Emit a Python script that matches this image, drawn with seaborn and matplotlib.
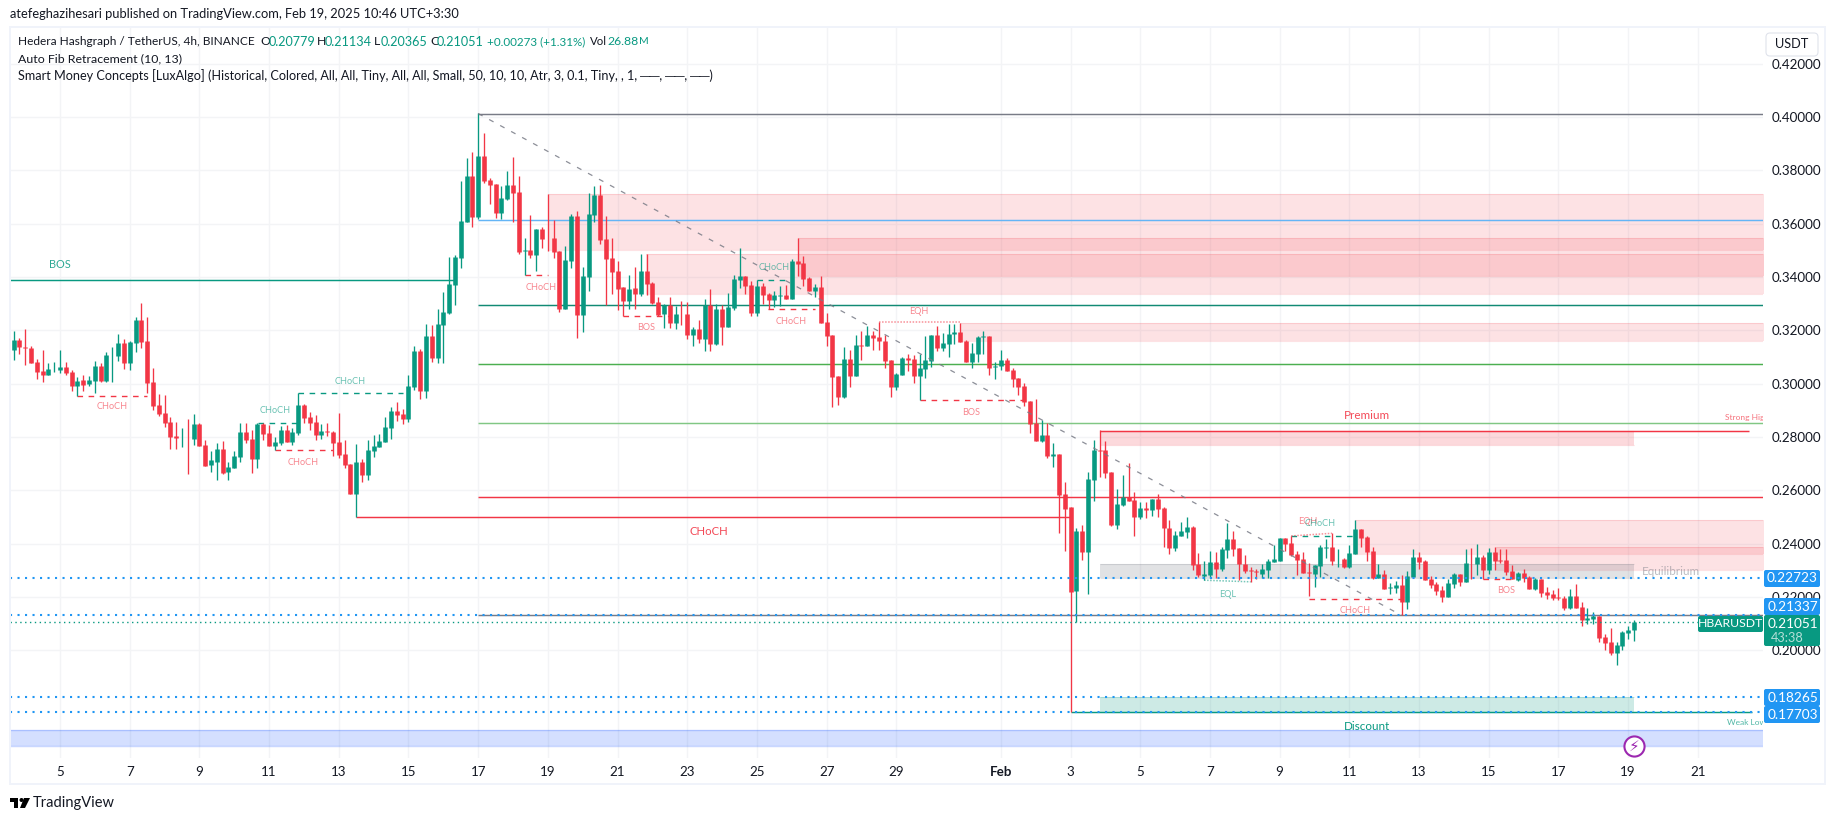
import numpy as np
import pandas as pd
import matplotlib
matplotlib.use("Agg")
import matplotlib.pyplot as plt
import seaborn as sns
from matplotlib.patches import FancyBboxPatch, Polygon, Circle
from matplotlib.transforms import IdentityTransform

# 4h candles, first one is Jan 3 16:00
opens = [
    .3128, .3165, .3138, .3135, .3083, .3049, .3034, .3054, .3053, .3064,
    .3045, .2993, .3015, .3000, .3011, .3068, .3011, .3106, .3105, .3154,
    .3079, .3154, .3240, .3161, .3008, .2921, .2891, .2858, .2805, .2799,
    .2801, .2794, .2850, .2771, .2696, .2708, .2756, .2670, .2685, .2726,
    .2820, .2794, .2719, .2850, .2816, .2768, .2779, .2828, .2782, .2816,
    .2921, .2876, .2858, .2809, .2824, .2820, .2782, .2738, .2700, .2588,
    .2707, .2659, .2749, .2764, .2782, .2835, .2899, .2888, .2869, .2989,
    .3124, .2974, .3180, .3098, .3221, .3266, .3371, .3473, .3608, .3780,
    .3626, .3855, .3765, .3750, .3641, .3694, .3746, .3720, .3499, .3503,
    .3484, .3581, .3548, .3548, .3499, .3281, .3461, .3630, .3259, .3401,
    .3634, .3709, .3544, .3473, .3424, .3364, .3311, .3360, .3338, .3424,
    .3379, .3308, .3263, .3295, .3229, .3263, .3263, .3184, .3206, .3169,
    .3295, .3150, .3281, .3213, .3284, .3389, .3404, .3370, .3265, .3366,
    .3336, .3314, .3329, .3333, .3318, .3460, .3453, .3396, .3348, .3363,
    .3231, .3183, .3029, .2950, .3093, .3029, .3145, .3141, .3183, .3175,
    .3160, .3089, .2987, .3033, .3096, .3093, .3029, .3055, .3085, .3183,
    .3134, .3149, .3186, .3194, .3160, .3081, .3111, .3176, .3179, .3064,
    .3065, .3088, .3050, .3020, .2990, .2934, .2851, .2784, .2806, .2728,
    .2735, .2585, .2536, .2221, .2446, .2368, .2638, .2750, .2750, .2668,
    .2469, .2544, .2574, .2563, .2499, .2533, .2525, .2566, .2533, .2458,
    .2383, .2428, .2443, .2461, .2323, .2280, .2284, .2333, .2306, .2378,
    .2419, .2385, .2325, .2301, .2299, .2288, .2303, .2333, .2336, .2423,
    .2404, .2363, .2344, .2295, .2288, .2318, .2385, .2389, .2341, .2344,
    .2314, .2363, .2456, .2426, .2374, .2273, .2288, .2234, .2235, .2246,
    .2183, .2276, .2351, .2336, .2269, .2250, .2228, .2201, .2250, .2288,
    .2258, .2329, .2325, .2351, .2303, .2370, .2340, .2340, .2299, .2265,
    .2291, .2276, .2231, .2269, .2220, .2213, .2201, .2198, .2160, .2205,
    .2164, .2115, .2119, .2130, .2051, .2033, .1991, .2018, .2066, .20779,
]
highs = [
    .3199, .3173, .3206, .3143, .3094, .3128, .3079, .3083, .3128, .3083,
    .3053, .3026, .3034, .3030, .3086, .3079, .3120, .3139, .3188, .3169,
    .3161, .3251, .3304, .3251, .3060, .2963, .2959, .2876, .2858, .2835,
    .2869, .2888, .2854, .2790, .2749, .2779, .2786, .2708, .2749, .2854,
    .2854, .2828, .2854, .2854, .2846, .2801, .2842, .2846, .2835, .2965,
    .2925, .2895, .2884, .2850, .2854, .2824, .2891, .2790, .2700, .2775,
    .2719, .2790, .2809, .2813, .2876, .2914, .2932, .2906, .3034, .3142,
    .3131, .3225, .3221, .3281, .3345, .3476, .3484, .3761, .3848, .3870,
    .4015, .3941, .3773, .3750, .3743, .3799, .3851, .3780, .3548, .3634,
    .3581, .3589, .3713, .3615, .3499, .3518, .3638, .3649, .3439, .3716,
    .3743, .3746, .3630, .3548, .3461, .3364, .3409, .3439, .3488, .3488,
    .3383, .3326, .3300, .3326, .3293, .3311, .3308, .3214, .3240, .3319,
    .3356, .3300, .3296, .3340, .3408, .3509, .3404, .3385, .3388, .3378,
    .3340, .3348, .3366, .3370, .3468, .3546, .3479, .3400, .3374, .3404,
    .3265, .3183, .3029, .3138, .3126, .3183, .3198, .3216, .3198, .3231,
    .3183, .3089, .3040, .3100, .3111, .3108, .3110, .3179, .3183, .3216,
    .3190, .3224, .3224, .3228, .3164, .3153, .3179, .3198, .3179, .3081,
    .3125, .3095, .3058, .3020, .3001, .2934, .2941, .2863, .2851, .2776,
    .2735, .2630, .2536, .2458, .2469, .2668, .2788, .2825, .2784, .2668,
    .2604, .2656, .2701, .2593, .2555, .2555, .2566, .2585, .2536, .2488,
    .2446, .2480, .2499, .2465, .2364, .2336, .2374, .2370, .2389, .2479,
    .2449, .2385, .2359, .2314, .2306, .2325, .2344, .2396, .2423, .2423,
    .2430, .2374, .2370, .2329, .2321, .2396, .2419, .2441, .2381, .2348,
    .2396, .2490, .2456, .2430, .2389, .2325, .2303, .2254, .2261, .2284,
    .2299, .2381, .2370, .2340, .2280, .2258, .2243, .2269, .2291, .2288,
    .2381, .2385, .2400, .2359, .2385, .2389, .2381, .2381, .2321, .2295,
    .2306, .2280, .2273, .2269, .2239, .2228, .2235, .2205, .2231, .2250,
    .2183, .2160, .2145, .2130, .2063, .2085, .2033, .2074, .2093, .21134,
]
lows = [
    .3090, .3113, .3071, .3079, .3019, .3008, .3034, .3045, .3041, .3034,
    .2974, .2953, .2974, .2993, .2966, .3008, .3008, .3008, .3086, .3056,
    .3053, .3120, .3135, .2966, .2903, .2880, .2839, .2756, .2756, .2764,
    .2663, .2771, .2768, .2693, .2670, .2640, .2663, .2640, .2685, .2708,
    .2779, .2666, .2685, .2790, .2768, .2752, .2771, .2782, .2771, .2809,
    .2854, .2828, .2790, .2794, .2805, .2730, .2722, .2685, .2588, .2500,
    .2632, .2640, .2726, .2764, .2782, .2794, .2861, .2850, .2858, .2977,
    .2944, .2947, .3083, .3079, .3079, .3262, .3296, .3435, .3608, .3589,
    .3619, .3754, .3675, .3623, .3619, .3690, .3608, .3488, .3408, .3473,
    .3424, .3510, .3499, .3473, .3270, .3281, .3435, .3173, .3195, .3349,
    .3608, .3525, .3295, .3338, .3278, .3254, .3281, .3281, .3330, .3334,
    .3300, .3254, .3210, .3210, .3206, .3221, .3169, .3143, .3154, .3124,
    .3124, .3146, .3146, .3213, .3276, .3359, .3336, .3254, .3254, .3299,
    .3279, .3288, .3291, .3318, .3318, .3404, .3366, .3348, .3325, .3228,
    .3141, .2913, .2920, .2946, .2987, .3029, .3089, .3141, .3126, .3126,
    .3059, .2950, .2976, .3033, .3048, .3003, .2938, .3021, .3063, .3123,
    .3123, .3100, .3149, .3156, .3081, .3059, .3081, .3111, .3033, .3018,
    .3050, .3046, .2986, .2956, .2915, .2814, .2784, .2780, .2720, .2686,
    .2439, .2371, .17703, .2108, .2338, .2210, .2559, .2649, .2645, .2465,
    .2454, .2540, .2559, .2428, .2491, .2495, .2503, .2499, .2386, .2360,
    .2371, .2428, .2420, .2300, .2274, .2265, .2273, .2273, .2299, .2348,
    .2355, .2265, .2291, .2258, .2269, .2273, .2273, .2333, .2336, .2374,
    .2355, .2284, .2291, .2205, .2239, .2276, .2348, .2321, .2314, .2310,
    .2310, .2363, .2389, .2336, .2269, .2273, .2231, .2213, .2216, .2134,
    .2156, .2276, .2306, .2265, .2235, .2209, .2183, .2201, .2235, .2243,
    .2258, .2269, .2284, .2268, .2288, .2303, .2329, .2284, .2269, .2261,
    .2258, .2231, .2228, .2201, .2194, .2190, .2190, .2153, .2156, .2160,
    .2093, .2100, .2100, .2033, .2003, .1984, .1946, .2003, .2044, .20365,
]
closes = [
    .3165, .3136, .3135, .3079, .3045, .3034, .3056, .3056, .3064, .3041,
    .2993, .3011, .2996, .3015, .3068, .3011, .3109, .3109, .3154, .3079,
    .3158, .3240, .3158, .3004, .2918, .2888, .2854, .2801, .2798, .2801,
    .2799, .2850, .2768, .2693, .2715, .2756, .2666, .2689, .2730, .2820,
    .2790, .2719, .2850, .2813, .2768, .2782, .2828, .2782, .2820, .2921,
    .2872, .2854, .2809, .2824, .2820, .2779, .2734, .2696, .2588, .2707,
    .2659, .2752, .2768, .2786, .2839, .2899, .2884, .2869, .2992, .3124,
    .2974, .3180, .3098, .3225, .3270, .3375, .3476, .3611, .3780, .3626,
    .3855, .3761, .3746, .3641, .3698, .3746, .3716, .3495, .3501, .3484,
    .3581, .3544, .3545, .3495, .3281, .3465, .3630, .3259, .3405, .3638,
    .3709, .3540, .3469, .3420, .3356, .3311, .3356, .3338, .3424, .3375,
    .3304, .3259, .3295, .3229, .3263, .3260, .3184, .3206, .3169, .3295,
    .3150, .3281, .3214, .3288, .3392, .3404, .3366, .3265, .3366, .3333,
    .3314, .3333, .3331, .3318, .3460, .3449, .3393, .3348, .3363, .3228,
    .3179, .3025, .2950, .3093, .3029, .3145, .3141, .3183, .3171, .3160,
    .3085, .2987, .3036, .3096, .3089, .3029, .3059, .3089, .3183, .3134,
    .3153, .3186, .3194, .3156, .3081, .3115, .3175, .3179, .3059, .3066,
    .3088, .3046, .3016, .2986, .2930, .2848, .2784, .2806, .2728, .2735,
    .2581, .2529, .2218, .2446, .2368, .2641, .2750, .2746, .2664, .2469,
    .2548, .2574, .2559, .2499, .2533, .2526, .2566, .2529, .2458, .2383,
    .2431, .2446, .2461, .2319, .2281, .2288, .2333, .2306, .2381, .2419,
    .2381, .2325, .2299, .2296, .2293, .2306, .2336, .2344, .2423, .2400,
    .2359, .2340, .2291, .2289, .2321, .2389, .2389, .2336, .2344, .2314,
    .2366, .2456, .2423, .2370, .2273, .2288, .2231, .2239, .2246, .2183,
    .2280, .2351, .2333, .2265, .2246, .2224, .2201, .2254, .2288, .2258,
    .2329, .2326, .2351, .2303, .2370, .2336, .2336, .2295, .2269, .2291,
    .2273, .2231, .2269, .2216, .2209, .2198, .2198, .2160, .2205, .2160,
    .2115, .2123, .2130, .2048, .2029, .1991, .2021, .2070, .2078, .21051,
]

GREEN = "#089981"
RED = "#f23645"
BLUE = "#2196f3"
INK = "#131722"
GRID = "#f3f4f6"

# x axis is in days counted from Jan 0
x_ticks = [5, 7, 9, 11, 13, 15, 17, 19, 21, 23, 25, 27, 29, 32, 34, 36, 38, 40, 42, 44, 46, 48, 50, 52]
x_labels = ["5", "7", "9", "11", "13", "15", "17", "19", "21", "23", "25", "27", "29", "Feb",
            "3", "5", "7", "9", "11", "13", "15", "17", "19", "21"]
y_ticks = [0.20, 0.22, 0.24, 0.26, 0.28, 0.30, 0.32, 0.34, 0.36, 0.38, 0.40, 0.42]

# auto fib levels, drawn from the Jan 17 high to the right edge
fib_levels = [0.4013, 0.3613, 0.3294, 0.3073, 0.2851, 0.2576, 0.2131]
fib_colors = ["#787b86", "#64b5f6", "#118a74", "#4caf50", "#81c784", "#f23645", "#787b86"]
fib_start = 17.0
fib_end_day = 43.5

# solid / dashed structure lines
bos_price = 0.3388
bos_end = 16.35
choch_price = 0.2500
choch_days = [13.5, 34.0]
dash_start = [5.5, 11.83, 10.67, 11.17, 18.33, 21.17, 25.0, 25.33, 29.67, 40.33, 40.83, 45.83]
dash_end = [7.5, 14.83, 11.83, 12.83, 19.0, 22.5, 25.83, 26.67, 32.67, 42.17, 43.5, 46.67]
dash_price = [.2953, .2965, .2852, .2751, .3408, .3254, .3388, .3279, .2938, .2428, .2191, .2269]
dash_color = [RED, GREEN, GREEN, RED, RED, RED, GREEN, RED, RED, GREEN, RED, RED]

# equal highs / lows
eq_start = [28.5, 37.83, 40.33]
eq_end = [30.83, 39.17, 41.5]
eq_from = [.3230, .2263, .2429]
eq_to = [.3230, .2257, .2439]
eq_color = [RED, GREEN, RED]

# order blocks and zones
box_left = [19.0, 21.83, 26.17, 30.83, 42.17, 46.22, 34.83, 34.83, 34.83]
box_right = [54, 54, 54, 54, 54, 54, 50.17, 50.17, 50.17]
box_top = [.3713, .3488, .3546, .3228, .2489, .2388, .2821, .2324, .1825]
box_bottom = [.3500, .3335, .3404, .3161, .2362, .2301, .2770, .2271, .1770]
box_color = [RED, RED, RED, RED, RED, RED, RED, "#787b86", GREEN]
box_alpha = [.14, .14, .14, .14, .14, .14, .19, .22, .2]

# price alert lines on the right
alert_prices = [0.22723, 0.21337, 0.18265, 0.17703]
last_price = 0.21051

# small indicator labels
label_text = ["BOS", "CHoCH", "CHoCH", "CHoCH", "CHoCH", "CHoCH", "BOS", "CHoCH", "CHoCH", "EQH", "BOS",
              "EQL", "EQH", "CHoCH", "CHoCH", "BOS"]
label_day = [5.0, 6.5, 13.33, 11.17, 11.98, 18.8, 21.83, 25.5, 25.98, 29.65, 31.15,
             38.5, 40.82, 41.15, 42.17, 46.51]
label_price = [.3447, .2913, .3007, .2899, .2704, .3360, .3210, .3435, .3232, .3270, .2893,
               .2209, .2482, .2476, .2149, .2224]
label_color = [GREEN, RED, GREEN, GREEN, RED, RED, RED, GREEN, RED, RED, RED,
               GREEN, RED, GREEN, RED, RED]

days = 5 + (np.arange(len(opens)) - 8) / 6
df = pd.DataFrame({"day": days, "open": opens, "high": highs, "low": lows, "close": closes})
df["dir"] = np.where(df["close"] >= df["open"], "up", "down")
df["candle"] = df.index

wicks = df.melt(id_vars=["candle", "day", "dir"], value_vars=["high", "low"], value_name="price")
bodies = df.melt(id_vars=["candle", "day", "dir"], value_vars=["open", "close"], value_name="price")

sns.set_theme(style="white")
plt.rcParams["font.family"] = ["Lato", "DejaVu Sans"]
plt.rcParams["lines.solid_capstyle"] = "butt"

fig = plt.figure(figsize=(18.35, 8.21), dpi=100, facecolor="white")
ax = fig.add_axes([10 / 1835, 1 - 758 / 821, 1753 / 1835, 731 / 821])
x_min, x_max = 3.565, 53.87
ax.set_xlim(x_min, x_max)
ax.set_ylim(0.15963, 0.43375)

ax.grid(True, color=GRID, linewidth=1.0)
ax.set_axisbelow(True)
for s in ax.spines.values():
    s.set_visible(False)

# zones first
for l, r, t, b, c, a in zip(box_left, box_right, box_top, box_bottom, box_color, box_alpha):
    ax.fill_between([l, r], b, t, color=c, alpha=a, linewidth=0, zorder=1)
    ax.hlines([t, b], l, r, color=c, alpha=a, linewidth=0.8, zorder=1)

ax.fill_between([x_min, x_max], 0.1642, 0.1700, color="#2962ff", alpha=0.2, linewidth=0, zorder=1)
ax.hlines([0.1642, 0.1700], x_min, x_max, color="#2962ff", alpha=0.25, linewidth=1, zorder=1)

for price, color in zip(fib_levels, fib_colors):
    ax.hlines(price, fib_start, x_max, color=color, linewidth=1.05, zorder=2)

ax.hlines(bos_price, x_min, bos_end, color=GREEN, linewidth=1.05, zorder=2)
ax.hlines(choch_price, choch_days[0], choch_days[1], color=RED, linewidth=1.05, zorder=2)
ax.hlines(0.2821, 34.83, 53.48, color=RED, linewidth=1.05, zorder=2)
ax.hlines(0.1770, 34.0, 53.55, color=GREEN, linewidth=1.05, zorder=2)

for s0, s1, p, c in zip(dash_start, dash_end, dash_price, dash_color):
    ax.plot([s0, s1], [p, p], color=c, linewidth=1.0, linestyle=(0, (4, 4)), zorder=2)
for s0, s1, p0, p1, c in zip(eq_start, eq_end, eq_from, eq_to, eq_color):
    ax.plot([s0, s1], [p0, p1], color=c, alpha=0.55, linewidth=1.1, linestyle=(0, (1, 1)), zorder=2)

# candles: wick and body are both vertical seaborn lines, one per candle
palette = {"up": GREEN, "down": RED}
sns.lineplot(data=wicks, x="day", y="price", units="candle", hue="dir", palette=palette, estimator=None,
             errorbar=None, sort=False, linewidth=0.95, legend=False, ax=ax, zorder=3)
sns.lineplot(data=bodies, x="day", y="price", units="candle", hue="dir", palette=palette, estimator=None,
             errorbar=None, sort=False, linewidth=3.3, legend=False, ax=ax, zorder=3)

# fib trend line
ax.plot([fib_start, fib_end_day], [fib_levels[0], fib_levels[-1]], color="#787b86", alpha=0.85, linewidth=0.9,
        linestyle=(0, (4, 6)), zorder=4)

for price in alert_prices:
    ax.hlines(price, x_min, x_max, color=BLUE, linewidth=1.5, linestyle=(0, (1, 2.6)), zorder=4)
ax.hlines(last_price, x_min, x_max, color=GREEN, linewidth=1.0, linestyle=(0, (1, 2.5)), zorder=4)

for t, d, p, c in zip(label_text, label_day, label_price, label_color):
    size = 7.8 if d == 5.0 else 6.6
    ax.text(d, p, t, color=c, alpha=0.6 if d != 5.0 else 0.85, fontsize=size, ha="center", va="center", zorder=5)

ax.text(23.62, 0.2444, "CHoCH", color=RED, fontsize=8.2, ha="center", va="center", zorder=5, alpha=0.9)
ax.text(42.5, 0.2880, "Premium", color=RED, fontsize=8.4, ha="center", va="center", zorder=5, alpha=0.9)
ax.text(42.5, 0.1716, "Discount", color=GREEN, fontsize=8.4, ha="center", va="center", zorder=5)
ax.text(51.23, 0.2295, "Equilibrium", color="#787b86", alpha=0.5, fontsize=8.4, ha="center", va="center", zorder=5)
ax.text(53.4, 0.2872, "Strong High", color=RED, alpha=0.7, fontsize=6, ha="center", va="center", zorder=5,
        clip_on=True)
ax.text(53.4, 0.1728, "Weak Low", color=GREEN, alpha=0.7, fontsize=6, ha="center", va="center", zorder=5,
        clip_on=True)

# lightning badge at the last bar
ax.scatter([50.17], [0.1642], s=210, facecolor="white", edgecolor="#9c27b0", linewidth=1.5, zorder=6, clip_on=False)
ax.text(50.17, 0.1642, "\u26a1", color="#9c27b0", fontsize=11, ha="center", va="center", zorder=7,
        family="DejaVu Sans")

ax.set_xlabel("")
ax.set_ylabel("")
ax.set_xticks(x_ticks)
ax.set_xticklabels(x_labels)
ax.set_yticks(y_ticks)
ax.set_yticklabels([f"{v:.5f}" for v in y_ticks])
ax.yaxis.tick_right()
ax.tick_params(axis="x", length=0, pad=6, labelsize=9.6, colors=INK)
ax.tick_params(axis="y", length=0, pad=6, labelsize=9.6, colors=INK)
for lab in ax.get_xticklabels():
    if lab.get_text() == "Feb":
        lab.set_fontweight("bold")


# figure level drawing in image pixels, y measured from the top
def px_box(x0, y0, x1, y1, color, fill=True, round_px=2, z=8):
    p = FancyBboxPatch((x0, 821 - y1), x1 - x0, y1 - y0, boxstyle=f"round,pad=0,rounding_size={round_px}",
                       transform=IdentityTransform(), facecolor=color if fill else "none",
                       edgecolor=color, linewidth=0.8 if not fill else 0, zorder=z)
    fig.add_artist(p)


def px_text(x, y, s, color=INK, size=9.6, ha="left", **kw):
    fig.text(x / 1835, 1 - y / 821, s, color=color, fontsize=size, ha=ha, va="center", zorder=9, **kw)


# outer frame
for bx in [(9, 26, 1826, 28), (9, 783, 1826, 785), (9, 26, 11, 785), (1824, 26, 1826, 785)]:
    px_box(bx[0], bx[1], bx[2], bx[3], "#f0f3fa", round_px=0, z=1)

px_text(10, 14.5, "atefeghazihesari published on TradingView.com, Feb 19, 2025 10:46 UTC+3:30", size=9.25)

# legend rows
px_text(18, 41.5, "Hedera Hashgraph / TetherUS, 4h, BINANCE", size=8.55)
for x, s in zip([260, 317, 374, 430], ["O", "H", "L", "C"]):
    px_text(x, 41.5, s, size=8.8)
for x, s in zip([268.5, 325, 381, 437], ["0.20779", "0.21134", "0.20365", "0.21051"]):
    px_text(x, 41.5, s, color=GREEN, size=9.1)
px_text(487, 41.5, "+0.00273 (+1.31%)", color=GREEN, size=8.4)
px_text(590, 41.5, "Vol", size=8.2)
px_text(607, 41.5, "26.88", color=GREEN, size=8.8)
px_text(639, 41.5, "M", color=GREEN, size=7.5)
px_text(18, 58.5, "Auto Fib Retracement (10, 13)", size=8.9)
px_text(18, 75.5, "Smart Money Concepts [LuxAlgo] (Historical, Colored, All, All, Tiny, All, All, Small, "
                  "50, 10, 10, Atr, 3, 0.1, Tiny, , 1, \u2500\u2500, \u2500\u2500, \u2500\u2500)", size=9.05)

# currency button
px_box(1766, 33, 1818, 56, "white", z=8)
px_box(1766, 33, 1818, 56, "#e0e3eb", fill=False, round_px=4, z=8)
px_text(1792, 44.5, "USDT", ha="center", size=9.2)

# price tags on the axis
px_box(1764, 570, 1820, 587, BLUE)
px_box(1764, 598, 1820, 615, BLUE)
px_box(1764, 689, 1820, 706, BLUE)
px_box(1764, 706, 1820, 723, BLUE)
px_box(1764, 615, 1820, 646, GREEN)
px_box(1698, 616, 1763, 632, GREEN)
for y, s in zip([578.5, 606.5, 697.5, 714.5, 623.5], ["0.22723", "0.21337", "0.18265", "0.17703", "0.21051"]):
    px_text(1792.5, y, s, color="white", ha="center", size=9.8)
px_text(1787, 637.5, "43:38", color="#b4dfd7", ha="center", size=9.2)
px_text(1730.5, 623.5, "HBARUSDT", color="white", ha="center", size=8.8)

# TradingView mark
px_box(10, 798, 18, 802, "black", round_px=0, z=8)
px_box(14, 798, 18, 808, "black", round_px=0, z=8)
fig.add_artist(Circle((21.5, 821 - 800), 2, transform=IdentityTransform(), facecolor="black", edgecolor="none", zorder=8))
fig.add_artist(Polygon([(24, 821 - 798), (30, 821 - 798), (25, 821 - 808), (20, 821 - 808)], closed=True,
                       transform=IdentityTransform(), facecolor="black", edgecolor="none", zorder=8))
px_text(33, 803, "TradingView", size=10.5)

fig.savefig("out.png", dpi=100)
